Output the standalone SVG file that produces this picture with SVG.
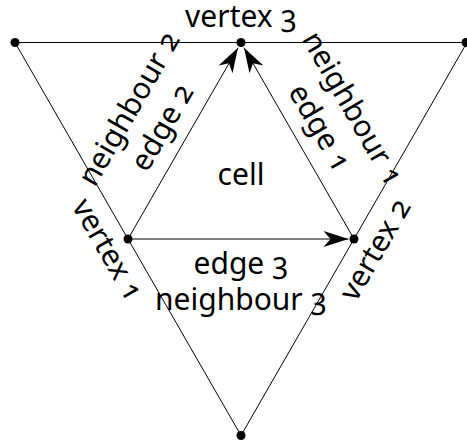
<svg xmlns="http://www.w3.org/2000/svg" width="467" height="441" viewBox="0 0 467 441">
<style>
  .ln { stroke: #000; stroke-width: 1; fill: none; }
  .arr { marker-end: url(#stealth); }
  .dot { fill: #000; }
  text { font-family: "Noto Sans", "Open Sans", sans-serif; font-size: 30px; fill: #000; text-anchor: middle; font-variant-numeric: oldstyle-nums; }
</style>
<defs>
  <marker id="stealth" markerUnits="userSpaceOnUse" markerWidth="30" markerHeight="20" viewBox="-27 -10 30 20" refX="0" refY="0" orient="auto">
    <path d="M0,0 L-25,-8 L-18,0 L-25,8 Z" fill="#000"/>
  </marker>
</defs>
<g id="connectors">
  <path class="ln" d="M15,42.5 H467"/>
  <path class="ln" d="M15,42.5 L241,435.5"/>
  <path class="ln" d="M467,42.5 L241,435.5"/>
  <path class="ln arr" d="M128,239 L238,47.7"/>
  <path class="ln arr" d="M354,239 L244,47.7"/>
  <path class="ln arr" d="M128,239 L348.5,239"/>
</g>
<g id="corner-top-left"><circle class="dot" cx="15" cy="42.5" r="4.5"/></g>
<g id="corner-top-right"><circle class="dot" cx="466" cy="42.5" r="4.5"/></g>
<g id="corner-bottom"><circle class="dot" cx="241" cy="435.5" r="4.5"/></g>
<g id="vertex3"><circle class="dot" cx="241" cy="42.5" r="4.5"/><text x="241" y="27">vertex 3</text></g>
<g id="vertex1"><circle class="dot" cx="128" cy="239" r="4.5"/><text transform="translate(107,250) rotate(60)" y="9">vertex 1</text></g>
<g id="vertex2"><circle class="dot" cx="354" cy="239" r="4.5"/><text transform="translate(376,250) rotate(-60)" y="9">vertex 2</text></g>
<g id="cell"><text x="241" y="185">cell</text></g>
<g id="edge1"><text transform="translate(319,128) rotate(60)" y="9">edge 1</text></g>
<g id="edge2"><text transform="translate(163,128) rotate(-60)" y="9">edge 2</text></g>
<g id="edge3"><text x="241" y="274">edge 3</text></g>
<g id="neighbour1"><text transform="translate(352,109) rotate(60)" y="9">neighbour 1</text></g>
<g id="neighbour2"><text transform="translate(130,109) rotate(-60)" y="9">neighbour 2</text></g>
<g id="neighbour3"><text x="241" y="310">neighbour 3</text></g>
</svg>
